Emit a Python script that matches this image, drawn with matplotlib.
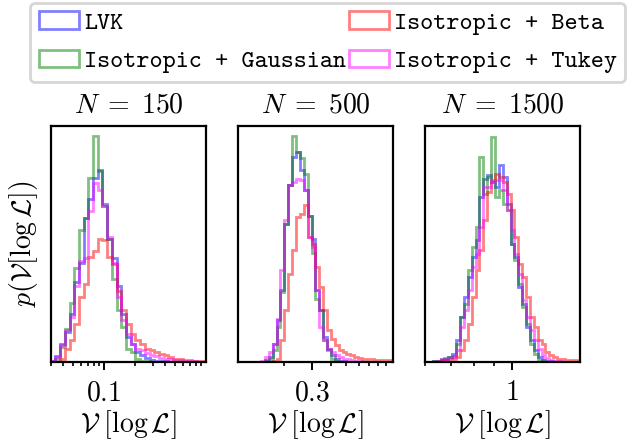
import numpy as np
import matplotlib
matplotlib.use("Agg")
import matplotlib.pyplot as plt
from matplotlib.ticker import NullFormatter

plt.rcParams['font.family'] = ['cmr10']
plt.rcParams['mathtext.fontset'] = 'cm'
plt.rcParams['axes.formatter.use_mathtext'] = True
plt.rcParams['font.size'] = 9

labels = ['LVK', 'Isotropic + Gaussian', 'Isotropic + Beta', 'Isotropic + Tukey']
colors = ['blue', 'green', 'red', 'magenta']
n_events = [150, 500, 1500]
tick_vals = [0.1, 0.3, 1.0]
tick_labels = ['$0.1$', '$0.3$', '$1$']
x_ranges = [(0.03, 1.0), (0.1, 1.0), (0.6, 1.5)]
n_bins = [33, 40, 40]

# histogram heights (arbitrary density units)
lvk_150 = [0.5, 2.5, 7.8, 12.7, 20.5, 34, 42, 61, 69, 78, 81.5, 67, 52, 44, 32, 20.5, 10.6,
           7.8, 4.2, 2.8, 1.8, 1, 0.6, 0.4, 0.3, 0.2, 0.1, 0, 0, 0, 0, 0, 0]
gauss_150 = [0, 1.4, 6.4, 14, 25, 40, 56, 61, 78, 95.6, 81, 66, 52, 35, 22, 15, 5.6,
             4.2, 1.4, 0.5, 0.3, 0, 0, 0, 0, 0, 0, 0, 0, 0, 0, 0, 0]
beta_150 = [0, 0, 1.4, 5.6, 9.2, 16, 27.5, 33, 44.5, 47, 52, 51.5, 44.5, 41.7, 30, 22, 16,
            12, 9.2, 7.8, 5.6, 5, 4.2, 3.5, 2.8, 2.1, 1.4, 1.1, 1, 0.7, 0.5, 0.4, 0.3]
tukey_150 = [0.5, 2, 7, 13.4, 19, 32, 43, 44, 64, 76, 73, 66, 53, 42, 27.5, 17.7, 12,
             7.8, 5.6, 5, 3.8, 2.8, 2.4, 1.8, 1.4, 1.1, 1, 0.7, 0.5, 0.4, 0.3, 0.2, 0.1]

lvk_500 = [0, 0, 0, 0, 0, 0, 0, 0.8, 2.1, 7.8, 17.7, 30.4, 58.6, 74.9, 86.9, 89, 81.2, 72.7,
           62, 52.3, 30.4, 21.9, 10.6, 5.6, 2.8, 1.4, 0.6, 0.3, 0, 0, 0, 0, 0, 0, 0, 0, 0, 0, 0, 0]
gauss_500 = [0, 0, 0, 0, 0, 0, 0, 0.5, 1.4, 5, 14.8, 29.7, 58.6, 74.9, 95.6, 89, 86.6, 79.8,
             62, 46, 26.8, 21.9, 9.2, 5, 1.4, 0.5, 0, 0, 0, 0, 0, 0, 0, 0, 0, 0, 0, 0, 0, 0]
beta_500 = [0, 0, 0, 0, 0, 0, 0, 0, 0, 0.5, 1.4, 9.2, 21.9, 37.4, 47.3, 61.4, 62.9, 66.4,
            53, 50.1, 40.3, 31.8, 21.9, 13.4, 9.9, 7.1, 5, 4.2, 3.5, 2.8, 2.1, 1.8, 1.4, 1.4,
            1.1, 1, 1, 1, 0.8, 1]
tukey_500 = [0, 0, 0, 0, 0, 0, 0.5, 2.1, 4.2, 7.8, 18.4, 38.8, 60, 74.9, 76.3, 77.7, 77,
             72.7, 53, 48.7, 30.4, 14.8, 9.2, 5.6, 4.2, 2.8, 2.1, 1.4, 1.1, 0.7, 0.5, 0.3, 0.2,
             0, 0, 0, 0, 0, 0, 0]

lvk_1500 = [0, 0, 0.3, 0.5, 1, 1.4, 2.1, 3.5, 9.2, 19, 27.5, 36, 44.5, 51.6, 69.9, 77.7,
            79.1, 76.3, 74.2, 83.3, 78.4, 67, 50.1, 44.5, 31.8, 24.7, 14.8, 9.2, 5, 2.1, 1,
            0.5, 0.3, 0, 0, 0, 0, 0, 0, 0]
gauss_1500 = [0, 0, 0.3, 0.5, 1.4, 1.8, 2.1, 2.4, 7.8, 19, 24.7, 38.8, 48.7, 57.2, 86.9,
              71.3, 78.4, 95.3, 69.9, 72.7, 67, 64.3, 50.1, 43.1, 33.2, 23.3, 16.2, 7.8, 3.5,
              1, 0.3, 0, 0, 0, 0, 0, 0, 0, 0, 0]
beta_1500 = [0, 0, 0, 0, 0.5, 1, 1, 1.4, 2.1, 5, 9.2, 16.2, 27.5, 38.8, 47.3, 60, 72, 77,
             79.8, 78.4, 76.3, 71.3, 64.3, 53, 41.7, 36, 27.5, 19, 14.8, 9.2, 7.8, 4.2, 2.8,
             2.1, 1.4, 1.1, 1, 0.8, 0.7, 0.5]
tukey_1500 = [0, 0, 0, 0.5, 1.4, 1.4, 1.8, 2.1, 5, 14.8, 21.9, 30.4, 40.3, 45.9, 57.2, 74.2,
              74.2, 76.3, 77, 77, 72.7, 64.3, 55.8, 45.9, 37.4, 26.1, 19, 13.4, 9.2, 5.6, 2.8,
              1.8, 1, 0.5, 0.3, 0, 0, 0, 0, 0]

panels = [
    [lvk_150, gauss_150, beta_150, tukey_150],
    [lvk_500, gauss_500, beta_500, tukey_500],
    [lvk_1500, gauss_1500, beta_1500, tukey_1500],
]

fig = plt.figure(figsize=(3.14, 2.22), dpi=200)
lefts = [0.0807, 0.3785, 0.6768]

for k in range(3):
    ax = fig.add_axes([lefts[k], 0.1847, 0.2475, 0.5315])
    lo, hi = x_ranges[k]
    edges = np.geomspace(lo, hi, n_bins[k] + 1)
    for vals, c, lab in zip(panels[k], colors, labels):
        ax.hist(edges[:-1], bins=edges, weights=vals, histtype='step',
                color=c, alpha=0.5, lw=1.0, label=lab)
    ax.set_xscale('log')
    ax.set_xlim(lo, hi)
    ax.set_ylim(0, 100)
    ax.set_yticks([])
    ax.set_xticks([tick_vals[k]], [tick_labels[k]])
    ax.xaxis.set_minor_formatter(NullFormatter())
    ax.tick_params(which='major', length=3, width=0.7, pad=3.5, labelsize=10)
    ax.tick_params(which='minor', length=1.6, width=0.6)
    ax.set_title(r'$N\;=\;%d$' % n_events[k], fontsize=10, pad=5)
    ax.set_xlabel(r'$\mathcal{V}\;[\log\mathcal{L}]$', fontsize=10, labelpad=0.5)
    if k == 0:
        ax.set_ylabel(r'$p(\mathcal{V}[\log\mathcal{L}])$', fontsize=10)
        handles, labs = ax.get_legend_handles_labels()

fig.legend(handles, labs, loc='upper center', bbox_to_anchor=(0.522, 0.994), ncol=2,
           prop={'family': 'cmtt10', 'size': 9}, handlelength=1.6, handletextpad=0.2,
           columnspacing=0.1, labelspacing=0.6, borderpad=0.35, borderaxespad=0)

fig.savefig('out.png', dpi=200)
